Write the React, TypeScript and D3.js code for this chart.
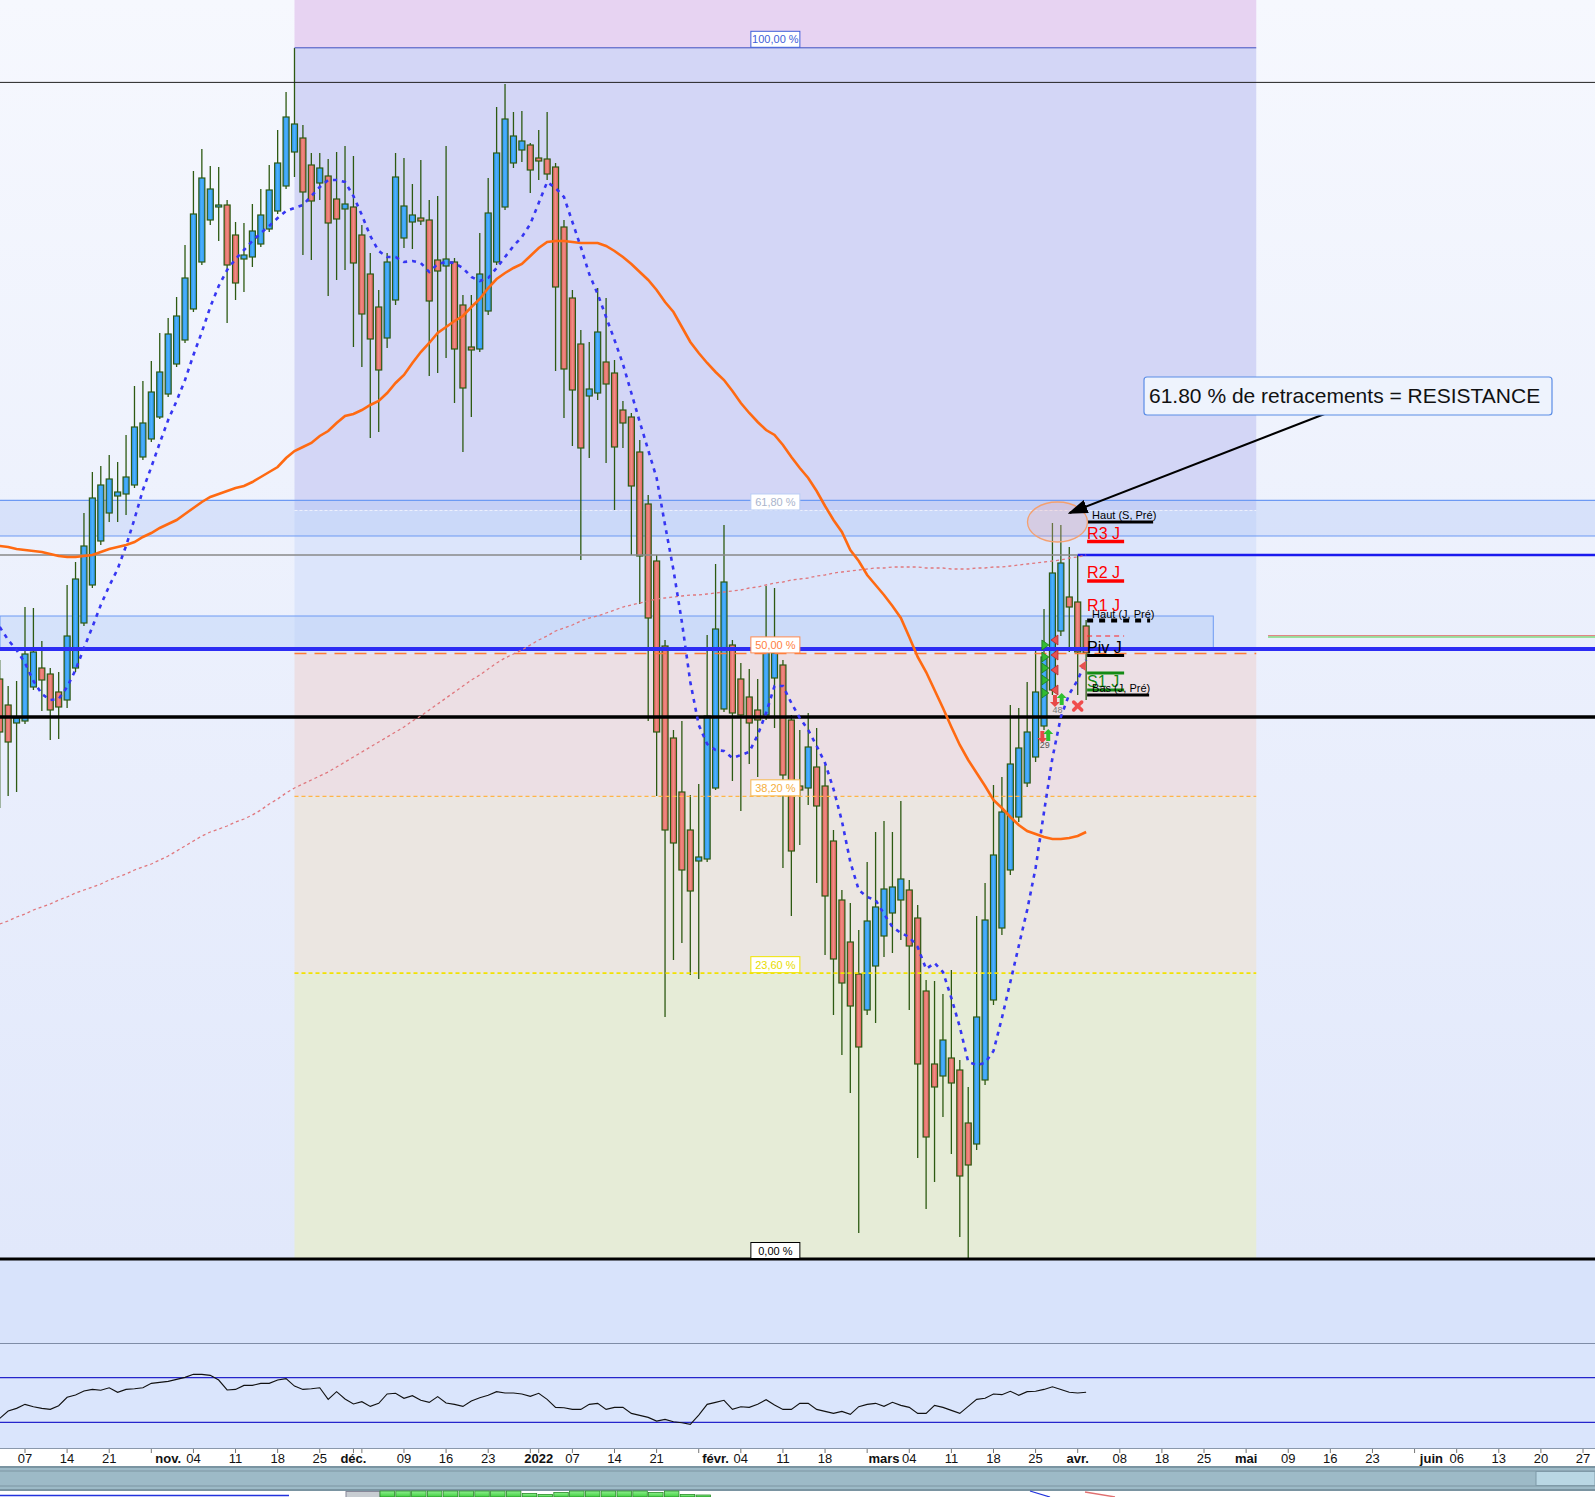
import * as d3 from "d3";

// one row per trading day, index 0 = lundi 4 oct. 2021 : [open, high, low, close]
const ohlc: [number, number, number, number][] = [
  [721, 740, 592, 668], [695, 714, 604, 658], [677, 719, 608, 682], [679, 793, 676, 746], [713, 792, 710, 748],
  [732, 759, 689, 720], [726, 732, 660, 690], [708, 728, 661, 693], [700, 815, 692, 764], [732, 838, 728, 821],
  [777, 887, 774, 854], [815, 928, 812, 902], [859, 934, 855, 915], [887, 945, 878, 921], [904, 938, 878, 908],
  [906, 965, 885, 923], [915, 1014, 912, 973], [943, 1019, 940, 977], [961, 1039, 958, 1008], [983, 1067, 981, 1028],
  [1006, 1082, 1003, 1066], [1036, 1103, 1033, 1084], [1060, 1155, 1057, 1122], [1091, 1229, 1088, 1186], [1138, 1251, 1135, 1222],
  [1180, 1234, 1175, 1211], [1193, 1233, 1159, 1195], [1195, 1200, 1077, 1135], [1165, 1178, 1100, 1117], [1141, 1177, 1108, 1145],
  [1143, 1196, 1133, 1169], [1156, 1211, 1153, 1185], [1171, 1235, 1168, 1210], [1189, 1270, 1186, 1237], [1214, 1308, 1211, 1283],
  [1248, 1352, 1223, 1276], [1262, 1275, 1145, 1208], [1235, 1247, 1140, 1199], [1217, 1247, 1200, 1232], [1224, 1241, 1104, 1177],
  [1201, 1248, 1120, 1181], [1191, 1254, 1130, 1196], [1193, 1244, 1053, 1137], [1165, 1175, 1033, 1086], [1126, 1147, 962, 1061],
  [1093, 1110, 968, 1030], [1062, 1147, 1052, 1138], [1100, 1247, 1095, 1223], [1162, 1242, 1152, 1194], [1178, 1216, 1151, 1185],
  [1182, 1240, 1175, 1179], [1180, 1200, 1024, 1099], [1140, 1204, 1027, 1129], [1134, 1254, 1042, 1141], [1138, 1142, 997, 1051],
  [1095, 1105, 948, 1012], [1053, 1105, 983, 1050], [1051, 1167, 1048, 1126], [1089, 1222, 1085, 1187], [1138, 1293, 1135, 1247],
  [1193, 1316, 1190, 1281], [1237, 1288, 1232, 1264], [1250, 1289, 1238, 1259], [1255, 1257, 1207, 1230], [1242, 1270, 1220, 1239],
  [1241, 1288, 1220, 1226], [1233, 1237, 1029, 1113], [1173, 1180, 982, 1031], [1102, 1110, 954, 1010], [1056, 1070, 840, 952],
  [1004, 1058, 942, 1011], [1007, 1112, 1000, 1068], [1038, 1102, 937, 1016], [1027, 1040, 890, 953], [990, 999, 952, 977],
  [983, 987, 845, 914], [948, 960, 796, 844], [896, 905, 679, 782], [839, 845, 604, 668], [754, 760, 383, 570],
  [662, 670, 440, 557], [608, 679, 457, 530], [570, 605, 425, 509], [539, 616, 421, 543], [541, 765, 538, 684],
  [612, 836, 610, 771], [691, 875, 688, 818], [755, 760, 619, 687], [721, 737, 589, 685], [703, 731, 636, 677],
  [690, 721, 623, 680], [685, 814, 680, 750], [722, 812, 672, 747], [735, 740, 532, 625], [680, 685, 484, 549],
  [614, 670, 555, 610], [612, 687, 595, 653], [633, 672, 517, 594], [614, 635, 445, 504], [559, 570, 385, 441],
  [500, 510, 345, 417], [458, 497, 307, 394], [426, 470, 167, 353], [390, 538, 385, 479], [434, 568, 377, 493],
  [464, 579, 443, 511], [487, 568, 447, 513], [500, 599, 460, 521], [510, 520, 390, 454], [482, 495, 242, 336],
  [409, 420, 191, 263], [336, 419, 218, 313], [324, 406, 283, 360], [342, 430, 246, 317], [330, 340, 163, 224],
  [277, 313, 141, 235], [256, 484, 250, 383], [320, 517, 315, 480], [400, 615, 395, 545], [472, 623, 465, 588],
  [530, 695, 525, 636], [583, 692, 578, 652], [617, 718, 613, 668], [643, 753, 638, 708], [674, 791, 670, 743],
  [710, 877, 705, 827], [769, 875, 764, 837], [803, 853, 748, 793], [798, 845, 705, 748], [774, 780, 700, 747],
];

// moyenne courte (pointillés bleus)
const maFast = [
  773, 760, 750, 737, 719, 706, 700, 701, 713, 730, 752, 773, 795, 814, 831, 854, 881, 910, 933, 957,
  980, 999, 1020, 1045, 1068, 1093, 1114, 1130, 1141, 1150, 1159, 1167, 1174, 1182, 1189, 1192, 1195, 1204, 1213, 1220,
  1220, 1218, 1204, 1185, 1164, 1149, 1143, 1143, 1138, 1139, 1137, 1128, 1136, 1138, 1137, 1132, 1123, 1119, 1122, 1132,
  1143, 1154, 1163, 1176, 1197, 1218, 1212, 1203, 1178, 1153, 1126, 1106, 1083, 1060, 1036, 1007, 978, 950, 922, 875,
  830, 778, 718, 675, 656, 650, 649, 642, 645, 648, 665, 687, 714, 714, 697, 682, 670, 654, 637, 611,
  579, 538, 510, 503, 500, 486, 473, 467, 463, 453, 431, 437, 428, 402, 373, 338, 335, 337, 349, 382,
  418, 454, 490, 532, 588, 642, 683, 706, 720, 740,
];

// moyenne 50 (orange)
const maMid = [
  854, 853, 851, 850, 849, 848, 846, 844, 843, 843, 844, 845, 848, 851, 853, 855, 858, 863, 867, 872,
  876, 880, 886, 892, 898, 903, 906, 909, 912, 914, 918, 923, 928, 933, 942, 949, 953, 957, 964, 969,
  977, 984, 986, 990, 995, 999, 1007, 1017, 1025, 1037, 1048, 1057, 1067, 1073, 1079, 1084, 1093, 1101, 1112, 1121,
  1127, 1132, 1136, 1144, 1152, 1158, 1159, 1159, 1158, 1157, 1157, 1157, 1154, 1149, 1143, 1136, 1128, 1120, 1110, 1098,
  1088, 1073, 1058, 1047, 1037, 1028, 1020, 1009, 997, 987, 978, 970, 965, 955, 943, 932, 922, 909, 894, 880,
  868, 850, 839, 825, 815, 805, 794, 782, 763, 743, 728, 710, 692, 673, 655, 640, 627, 614, 600, 592,
  583, 575, 569, 566, 563, 561, 561, 562, 564, 568,
];

// moyenne 200 (pointillés roses)
const maLong = [
  476, 479, 483, 486, 490, 493, 496, 500, 503, 507, 510, 513, 516, 520, 523, 526, 530, 533, 536, 540,
  544, 549, 554, 559, 564, 568, 571, 574, 578, 581, 585, 590, 596, 601, 607, 612, 616, 620, 624, 628,
  633, 638, 643, 648, 653, 658, 663, 668, 673, 679, 684, 690, 696, 702, 708, 714, 720, 725, 731, 737,
  742, 746, 750, 755, 760, 764, 769, 772, 775, 779, 782, 784, 787, 790, 793, 795, 797, 799, 801, 802,
  803, 804, 805, 805, 806, 807, 808, 809, 810, 812, 813, 815, 817, 818, 820, 821, 822, 824, 825, 827,
  828, 829, 830, 831, 832, 832, 833, 833, 833, 833, 832, 832, 832, 831, 831, 831, 832, 832, 833, 833,
  834, 835, 836, 837, 838, 839, 840, 842, 843, 845,
];

const rsi = [
  33.5, 40.1, 42.5, 46.1, 44.0, 42.5, 41.6, 44.9, 52.4, 54.5, 58.1, 59.5, 58.7, 61.0, 56.9, 59.5, 60.1, 61.0, 64.9, 65.8,
  66.7, 68.5, 70.3, 73.0, 73.0, 72.1, 67.9, 59.0, 59.5, 63.1, 63.1, 64.9, 64.9, 67.9, 69.1, 62.5, 59.5, 60.1, 61.0, 50.6,
  57.5, 50.9, 46.4, 48.5, 44.3, 47.0, 55.4, 56.0, 51.5, 53.9, 49.7, 47.9, 53.0, 47.3, 46.1, 44.3, 49.1, 52.1, 54.2, 57.5,
  56.3, 56.3, 55.4, 53.3, 56.0, 50.6, 43.4, 43.1, 41.6, 41.6, 46.1, 47.0, 41.6, 43.4, 43.4, 38.0, 36.2, 34.4, 31.1, 32.6,
  30.5, 29.6, 28.2, 36.5, 46.1, 47.9, 49.7, 41.6, 44.0, 43.4, 46.1, 50.3, 45.5, 41.6, 41.6, 47.0, 47.0, 41.6, 39.8, 38.0,
  39.8, 37.1, 44.0, 46.1, 47.0, 44.3, 47.9, 45.2, 43.4, 38.0, 38.0, 45.2, 43.4, 40.7, 38.0, 44.3, 50.6, 51.5, 55.4, 54.8,
  57.8, 54.2, 57.5, 57.8, 59.5, 61.9, 59.5, 56.9, 56.3, 56.9,
];

const weekTicks = [3, 8, 13, 18, 23, 28, 33, 38, 42, 43, 48, 53, 58, 63, 64, 68, 73, 78, 83, 88, 93, 98, 103, 108, 113, 118, 123, 128, 133, 138, 143, 148, 153, 158, 163, 168, 173, 178, 183, 188];
const dayTickIdx = [3, 8, 13, 23, 28, 33, 38, 48, 53, 58, 68, 73, 78, 88, 93, 98, 108, 113, 118, 123, 133, 138, 143, 153, 158, 163, 173, 178, 183, 188];
const dayTickLabels = ["07", "14", "21", "04", "11", "18", "25", "09", "16", "23", "07", "14", "21", "04", "11", "18", "04", "11", "18", "25", "08", "18", "25", "09", "16", "23", "06", "13", "20", "27"];
const monthTickIdx = [20, 42, 64, 85, 105, 128, 148, 170];
const monthTickLabels = ["nov.", "déc.", "2022", "févr.", "mars", "avr.", "mai", "juin"];

// retracements de Fibonacci, du plus haut (18 nov.) au plus bas (7 mars)
const fibHigh = 1352.2;
const fibLow = 141;
const fibFrom = 35;
const fibTo = 149.2;
const fibRatios = [1, 0.618, 0.5, 0.382, 0.236, 0];
const fibLabels = ["100,00 %", "61,80 %", "50,00 %", "38,20 %", "23,60 %", "0,00 %"];
const fibInk = ["#3f5fd8", "#a9b4cc", "#ff7f3f", "#f5ae3c", "#e8dc00", "#000000"];
const fibBorder = ["#3f5fd8", "#b9cdf5", "#ff8a4f", "#f7b84d", "#f0e400", "#000000"];
const fibZoneFill = ["#e7d3f2", "#d3d6f6", "#dce5fb", "#ecdfe4", "#ebe6e1", "#e6ecd7"];

// niveaux horizontaux tracés à la main
const resistanceHigh = 1317.6;
const bandTop = 899.7;
const bandBottom = 864;
const grayLevel = 845;
const zoneTop = 784;
const zoneBottom = 751;
const blackLevel = 683;
const rightLevel = 764;

const pivotNames = ["Haut (S, Pré)", "R3 J", "R2 J", "R1 J", "Haut (J, Pré)", "", "Piv J", "", "S1 J", "Bas (J, Pré)"];
const pivotValues = [878, 858.5, 819, 786, 779.5, 764, 744.5, 727, 710, 705];
const pivotColors = ["#000", "#ff0000", "#ff0000", "#ff0000", "#000", "#ff2020", "#000", "#138a13", "#138a13", "#000"];
const pivotLineW = [3, 3.5, 3.5, 0, 4, 1.2, 3, 3, 3, 3];
const pivotDash = ["", "", "", "", "6 6", "5 4", "", "", "", ""];
const pivotLen = [66, 37, 37, 37, 63, 37, 37, 37, 37, 62];
const pivotBig = [false, true, true, true, false, false, true, false, true, false];

const buyMarks = [755, 743, 732, 720, 707];
const sellMarks = [760, 745, 730, 710];

const navBars = [6, 6, 6, 6, 6, 6, 6, 6, 6, 3.5, 2.5, 4.5, 6, 6, 6, 6, 6, 4.5, 6, 2.5, 2];

const FONT = "'Liberation Sans', Arial, sans-serif";
const NARROW = "'Liberation Sans Narrow', 'Arial Narrow', 'Liberation Sans', sans-serif";

export default function App() {
  const x = d3.scaleLinear().domain([3, 188]).range([25, 1583]);
  const y = d3.scaleLinear().domain([fibLow, fibHigh]).range([1259, 47.8]);
  const yr = d3.scaleLinear().domain([30, 70]).range([1422.3, 1377.7]);

  const lineOf = (vals: number[], sc: (v: number) => number) =>
    d3.line<number>().x((_, i) => x(i)).y((v) => sc(v))(vals) ?? "";

  const fx0 = x(fibFrom);
  const fx1 = x(fibTo);
  const fibY = fibRatios.map((r) => y(fibLow + r * (fibHigh - fibLow)));
  const zoneEdges = [0, ...fibY];
  const lastX = x(ohlc.length - 1);
  const labelX = lastX + 1;

  return (
    <svg width={1595} height={1497} style={{ position: "absolute", left: 0, top: 0, display: "block" }}>
      <defs>
        <linearGradient id="bg" x1="0" y1="0" x2="0" y2="1">
          <stop offset="0" stopColor="#f6f8fe" />
          <stop offset="1" stopColor="#e1e8fb" />
        </linearGradient>
        <linearGradient id="gBlue" x1="0" y1="0" x2="1" y2="0">
          <stop offset="0" stopColor="#2a8fe6" />
          <stop offset="0.5" stopColor="#4cb2ff" />
          <stop offset="1" stopColor="#2a8fe6" />
        </linearGradient>
        <linearGradient id="gRed" x1="0" y1="0" x2="1" y2="0">
          <stop offset="0" stopColor="#d95c58" />
          <stop offset="0.5" stopColor="#f28c84" />
          <stop offset="1" stopColor="#d95c58" />
        </linearGradient>
        <linearGradient id="gNav" x1="0" y1="0" x2="0" y2="1">
          <stop offset="0" stopColor="#8ff08f" />
          <stop offset="1" stopColor="#3fcf3f" />
        </linearGradient>
        <clipPath id="mainClip">
          <rect x={0} y={0} width={1595} height={1343} />
        </clipPath>
        <marker id="arrowHead" markerWidth={20} markerHeight={14} refX={18} refY={7} orient="auto" markerUnits="userSpaceOnUse">
          <path d="M0,0 L20,7 L0,14 Z" fill="#000" />
        </marker>
      </defs>

      {/* main panel background */}
      <rect x={0} y={0} width={1595} height={1259} fill="url(#bg)" />
      <rect x={0} y={1259} width={1595} height={85} fill="#d8e3fb" />

      <g clipPath="url(#mainClip)">
        {/* fibonacci zones */}
        {fibZoneFill.map((c, k) => (
          <rect key={k} x={fx0} y={zoneEdges[k]} width={fx1 - fx0} height={zoneEdges[k + 1] - zoneEdges[k]} fill={c} />
        ))}

        {/* 61.8 % band and rectangle zone */}
        <rect x={0} y={y(bandTop)} width={1595} height={y(bandBottom) - y(bandTop)} fill="#a9c2f6" fillOpacity={0.32} />
        <line x1={0} x2={1595} y1={y(bandTop)} y2={y(bandTop)} stroke="#6d9af3" strokeWidth={1.2} />
        <line x1={0} x2={1595} y1={y(bandBottom)} y2={y(bandBottom)} stroke="#6d9af3" strokeWidth={1.2} />
        <line x1={fx0} x2={fx1} y1={fibY[1]} y2={fibY[1]} stroke="#eef1fc" strokeWidth={1} strokeDasharray="3 2" />
        <rect x={0} y={y(zoneTop)} width={x(144.1)} height={y(zoneBottom) - y(zoneTop)} fill="#b4ccf8" fillOpacity={0.4} stroke="#6d9af3" strokeWidth={1} />

        {/* candles */}
        {ohlc.map(([o, h, l, c], i) => {
          const cx = x(i);
          const up = c >= o;
          const top = y(Math.max(o, c));
          const bot = y(Math.min(o, c));
          return (
            <g key={i}>
              <line x1={cx} x2={cx} y1={y(h)} y2={y(l)} stroke="#2d5a12" strokeWidth={1.3} />
              <rect x={cx - 3} y={top} width={6} height={Math.max(bot - top, 1.5)} fill={up ? "url(#gBlue)" : "url(#gRed)"} stroke="#2d5a12" strokeWidth={1.2} />
            </g>
          );
        })}

        {/* horizontal levels */}
        <line x1={0} x2={1595} y1={y(resistanceHigh)} y2={y(resistanceHigh)} stroke="#222" strokeWidth={1} />
        <line x1={fx0} x2={fx1} y1={fibY[0]} y2={fibY[0]} stroke="#3f4fc0" strokeWidth={1} />
        <line x1={0} x2={x(128)} y1={y(grayLevel)} y2={y(grayLevel)} stroke="#888" strokeWidth={1.3} />
        <line x1={x(128)} x2={1595} y1={y(grayLevel)} y2={y(grayLevel)} stroke="#1a1aee" strokeWidth={2.5} />
        <line x1={0} x2={1595} y1={y(zoneBottom)} y2={y(zoneBottom)} stroke="#2c2cf4" strokeWidth={4} />
        <line x1={fx0} x2={fx1} y1={fibY[2]} y2={fibY[2]} stroke="#ff7a35" strokeWidth={1.5} strokeDasharray="12 8" />
        <line x1={0} x2={1595} y1={y(blackLevel)} y2={y(blackLevel)} stroke="#000" strokeWidth={3.5} />
        <line x1={fx0} x2={fx1} y1={fibY[3]} y2={fibY[3]} stroke="#ffb447" strokeWidth={1.2} strokeDasharray="4 3" />
        <line x1={fx0} x2={fx1} y1={fibY[4]} y2={fibY[4]} stroke="#f2e200" strokeWidth={1.6} strokeDasharray="4 3" />
        <line x1={0} x2={1595} y1={fibY[5]} y2={fibY[5]} stroke="#000" strokeWidth={3} />
        <line x1={x(150.6)} x2={1595} y1={y(rightLevel) + 1} y2={y(rightLevel) + 1} stroke="#7fdc7f" strokeWidth={1.6} />
        <line x1={x(150.6)} x2={1595} y1={y(rightLevel) - 0.4} y2={y(rightLevel) - 0.4} stroke="#e07a7a" strokeWidth={1} />

        {/* moving averages */}
        <path d={lineOf(maLong, y)} fill="none" stroke="#e0787e" strokeWidth={1.3} strokeDasharray="3 3" />
        <path d={lineOf(maMid, y)} fill="none" stroke="#ff6a12" strokeWidth={2.6} />
        <path d={lineOf(maFast, y)} fill="none" stroke="#3636f2" strokeWidth={2.6} strokeDasharray="4 5" />

        {/* fibonacci labels */}
        {fibLabels.map((t, k) => (
          <g key={t}>
            <rect x={x(92.1) - 24.5} y={fibY[k] - 16.5} width={49} height={16} fill="#fff" stroke={fibBorder[k]} strokeWidth={1} />
            <text x={x(92.1)} y={fibY[k] - 4.5} textAnchor="middle" fontFamily={FONT} fontSize={11} fill={fibInk[k]}>
              {t}
            </text>
          </g>
        ))}

        {/* pivot levels */}
        {pivotNames.map((n, k) => {
          const ly = y(pivotValues[k]);
          return (
            <g key={k}>
              {pivotLineW[k] > 0 && (
                <line x1={labelX} x2={labelX + pivotLen[k]} y1={ly} y2={ly} stroke={pivotColors[k]} strokeWidth={pivotLineW[k]} strokeDasharray={pivotDash[k] || undefined} />
              )}
              {n && (
                <text x={pivotBig[k] ? labelX : labelX + 5} y={ly - 3} fontFamily={FONT} fontSize={pivotBig[k] ? 16 : 11} fill={pivotColors[k]}>
                  {n}
                </text>
              )}
            </g>
          );
        })}

        {/* signal markers */}
        {buyMarks.map((v, k) => (
          <path key={"b" + k} d={`M${x(124.1) - 3},${y(v) - 5} L${x(124.1) + 4},${y(v)} L${x(124.1) - 3},${y(v) + 5} Z`} fill="#33bb33" stroke="#1d7a1d" strokeWidth={0.8} />
        ))}
        {sellMarks.map((v, k) => (
          <path key={"s" + k} d={`M${x(125.3) + 3},${y(v) - 5} L${x(125.3) - 4},${y(v)} L${x(125.3) + 3},${y(v) + 5} Z`} fill="#e85050" stroke="#b02a2a" strokeWidth={0.8} />
        ))}
        <path d={`M${x(128.6) + 3},${y(734) - 5} L${x(128.6) - 4},${y(734)} L${x(128.6) + 3},${y(734) + 5} Z`} fill="#e85050" />
        {[
          { i: 125.3, v: 699, up: false },
          { i: 126.1, v: 701, up: true },
          { i: 123.8, v: 663, up: false },
          { i: 124.5, v: 665, up: true },
        ].map((m, k) => {
          const cx = x(m.i);
          const cy = y(m.v);
          const d = m.up
            ? `M${cx},${cy - 6} L${cx + 5},${cy - 1} L${cx + 2},${cy - 1} L${cx + 2},${cy + 6} L${cx - 2},${cy + 6} L${cx - 2},${cy - 1} L${cx - 5},${cy - 1} Z`
            : `M${cx},${cy + 6} L${cx + 5},${cy + 1} L${cx + 2},${cy + 1} L${cx + 2},${cy - 6} L${cx - 2},${cy - 6} L${cx - 2},${cy + 1} L${cx - 5},${cy + 1} Z`;
          return <path key={"a" + k} d={d} fill={m.up ? "#2fc02f" : "#e84848"} />;
        })}
        <text x={x(125.6)} y={y(687)} textAnchor="middle" fontFamily={FONT} fontSize={9} fill="#777">48</text>
        <text x={x(124.1)} y={y(652)} textAnchor="middle" fontFamily={FONT} fontSize={9} fill="#555">29</text>
        <g stroke="#f04c4c" strokeWidth={3.5} strokeLinecap="round">
          <line x1={x(128) - 4} x2={x(128) + 4} y1={y(694) - 4} y2={y(694) + 4} />
          <line x1={x(128) - 4} x2={x(128) + 4} y1={y(694) + 4} y2={y(694) - 4} />
        </g>

        {/* annotation */}
        <ellipse cx={x(125.6)} cy={y(878)} rx={30} ry={20} fill="#f0b0b0" fillOpacity={0.3} stroke="#f4a070" strokeWidth={1.3} />
        <line x1={1340} y1={408} x2={x(125.6) + 12} y2={y(878) - 9} stroke="#000" strokeWidth={2} markerEnd="url(#arrowHead)" />
        <rect x={1144} y={377} width={408} height={38} rx={3} fill="#eef3fd" stroke="#5b8de6" strokeWidth={1.2} />
        <text x={1149} y={403} fontFamily={FONT} fontSize={21} fill="#111">
          61.80 % de retracements = RESISTANCE
        </text>
      </g>

      {/* RSI panel */}
      <rect x={0} y={1343} width={1595} height={105} fill="#dae5fc" />
      <line x1={0} x2={1595} y1={1343.5} y2={1343.5} stroke="#7f8da6" strokeWidth={1} />
      <line x1={0} x2={1595} y1={yr(70)} y2={yr(70)} stroke="#2525cc" strokeWidth={1.2} />
      <line x1={0} x2={1595} y1={yr(30)} y2={yr(30)} stroke="#2525cc" strokeWidth={1.2} />
      <path d={lineOf(rsi, yr)} fill="none" stroke="#111" strokeWidth={1.1} />

      {/* time axis */}
      <rect x={0} y={1448} width={1595} height={18} fill="#fff" />
      <line x1={0} x2={1595} y1={1448.5} y2={1448.5} stroke="#8a98ab" strokeWidth={1} />
      {weekTicks.map((t) => (
        <line key={t} x1={x(t)} x2={x(t)} y1={1449} y2={1453} stroke="#777" strokeWidth={1} />
      ))}
      {dayTickIdx.map((t, k) => (
        <text key={"d" + k} x={x(t)} y={1463} textAnchor="middle" fontFamily={NARROW} fontSize={13} fill="#111">
          {dayTickLabels[k]}
        </text>
      ))}
      {monthTickIdx.map((t, k) => (
        <text key={"m" + k} x={x(t)} y={1463} textAnchor="middle" fontFamily={NARROW} fontSize={13} fontWeight="bold" fill="#111">
          {monthTickLabels[k]}
        </text>
      ))}

      {/* scrollbar */}
      <rect x={0} y={1466} width={1595} height={25} fill="#9dbac7" />
      <line x1={0} x2={1595} y1={1467} y2={1467} stroke="#6f8794" strokeWidth={1.5} />
      <line x1={0} x2={1595} y1={1471} y2={1471} stroke="#7d95a2" strokeWidth={1} />
      <line x1={0} x2={1595} y1={1486} y2={1486} stroke="#7d95a2" strokeWidth={1} />
      <line x1={0} x2={1595} y1={1490} y2={1490} stroke="#6f8794" strokeWidth={1.5} />
      <rect x={1536} y={1471.5} width={59} height={14} fill="#b9d7e4" stroke="#7f9aa8" strokeWidth={1} />

      {/* navigator */}
      <rect x={0} y={1491} width={1595} height={6} fill="#ffffff" />
      <line x1={0} x2={289} y1={1495.5} y2={1495.5} stroke="#2233dd" strokeWidth={1.5} />
      <rect x={346} y={1491.5} width={34} height={6} fill="#c8cdd2" stroke="#889" strokeWidth={1} />
      {navBars.map((h, k) => (
        <rect key={k} x={380 + k * 15.8} y={1497 - h} width={14.5} height={h} fill="url(#gNav)" stroke="#2a8a2a" strokeWidth={0.8} />
      ))}
      <line x1={1030} x2={1050} y1={1491} y2={1497} stroke="#2233dd" strokeWidth={1.3} />
      <line x1={1085} x2={1115} y1={1492} y2={1497} stroke="#e07070" strokeWidth={1.3} />
    </svg>
  );
}
